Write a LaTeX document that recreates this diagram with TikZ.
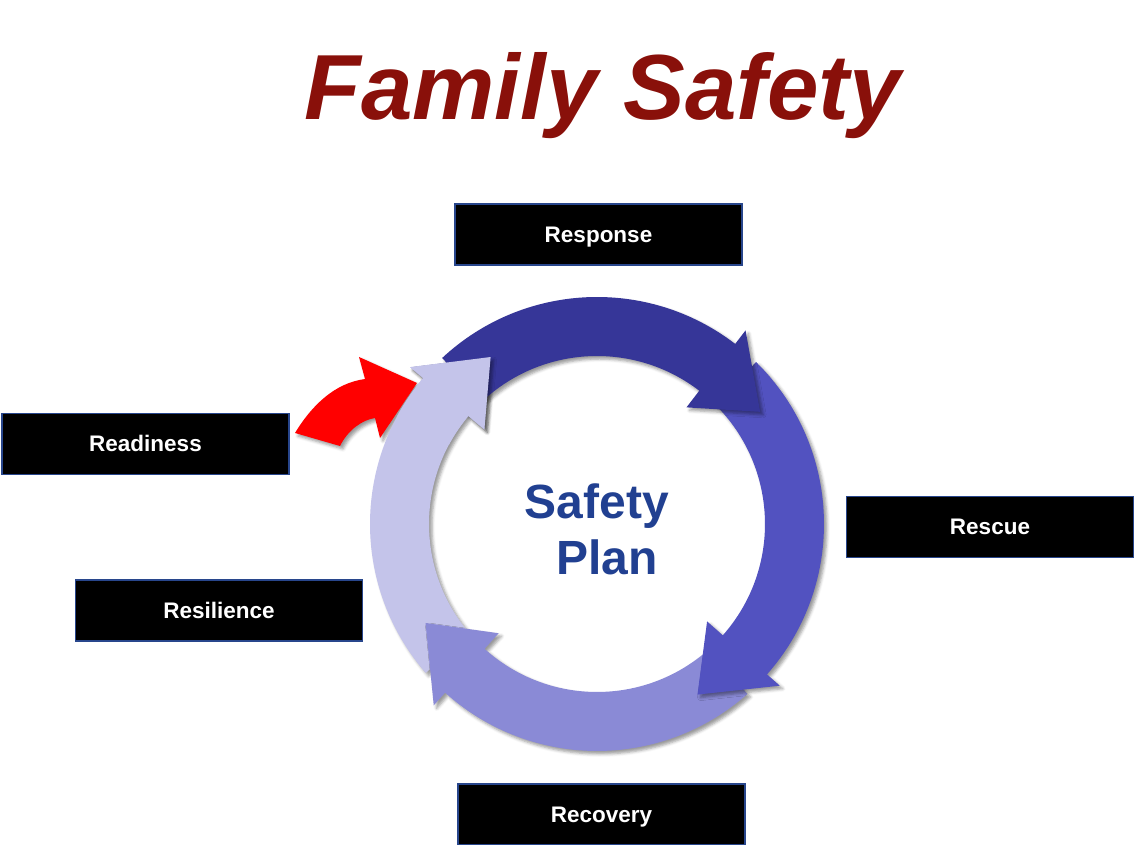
\documentclass[tikz,border=0pt]{standalone}
\usepackage{fontspec}
\setmainfont{Liberation Sans}
\usepackage{tikz}
\usetikzlibrary{shadows.blur}

\definecolor{titlered}{RGB}{137,16,10}
\definecolor{plannavy}{RGB}{33,64,145}
\definecolor{boxedge}{RGB}{40,70,140}
\definecolor{respblue}{RGB}{54,54,152}
\definecolor{rescblue}{RGB}{82,82,192}
\definecolor{recvblue}{RGB}{138,138,214}
\definecolor{reslblue}{RGB}{196,196,234}

\tikzset{
  stagebox/.style={fill=black, draw=boxedge, line width=1.5pt,
    minimum width=287pt, minimum height=61pt, inner sep=0pt,
    text height=16pt, text depth=0pt,
    text=white, font=\fontsize{22.5}{26}\selectfont\bfseries},
  softshadow/.style={blur shadow={shadow xshift=3pt, shadow yshift=-3pt,
    shadow blur radius=3pt, shadow opacity=40}}
}

% one ring segment: colour, start angle, base angle, tip angle
\newcommand{\cyclearrow}[4]{%
  \fill[#1, softshadow] (#2:227) arc[start angle=#2, end angle=#3, radius=227]
    -- (#3:244) -- (#4:198) -- (#3:147) -- (#3:168)
    arc[start angle=#3, end angle=#2, radius=168] -- cycle;}

\begin{document}
\begin{tikzpicture}[x=1pt,y=1pt]
  \useasboundingbox (0,0) rectangle (1135,845);
  % title
  \node[anchor=base, text=titlered, font=\fontsize{92.5}{100}\selectfont\bfseries\itshape]
    (title) at (603,725) {Family Safety};
  % stage boxes
  \node[stagebox] (response) at (598.5,610.5) {Response};
  \node[stagebox] (readiness) at (145.5,401) {Readiness};
  \node[stagebox] (resilience) at (219,234.5) {Resilience};
  \node[stagebox] (rescue) at (990,318) {Rescue};
  \node[stagebox] (recovery) at (601.5,30.5) {Recovery};
  % red entry arrow
  \fill[red, softshadow] (295,412) .. controls (312,440) and (335,462) .. (365,466)
    -- (359,488) -- (417,462) -- (380,407) -- (375,427)
    .. controls (362,425) and (348,415) .. (340,399) -- cycle;
  % the cycle
  \coordinate (hub) at (597,321);
  \begin{scope}[shift={(hub)}]
    \cyclearrow{reslblue}{-139}{-220}{-237.5}
    \cyclearrow{recvblue}{-48.5}{-132}{-150}
    \cyclearrow{rescblue}{45.5}{-41.5}{-59.5}
    \cyclearrow{respblue}{133}{52.5}{34.5}
    % light head back on top, then patch its shadow off the band
    \fill[reslblue, softshadow] (140:244) -- (122.5:198) -- (140:147) -- cycle;
    \fill[reslblue] (152:227) arc[start angle=152, end angle=139.5, radius=227]
      -- (139.5:168) arc[start angle=139.5, end angle=152, radius=168] -- cycle;
  \end{scope}
  % centre text
  \node[anchor=base, text=plannavy, font=\fontsize{48}{56}\selectfont\bfseries]
    (safety) at (597,326) {Safety};
  \node[anchor=base, text=plannavy, font=\fontsize{48}{56}\selectfont\bfseries]
    (plan) at (607,270) {Plan};
\end{tikzpicture}
\end{document}
